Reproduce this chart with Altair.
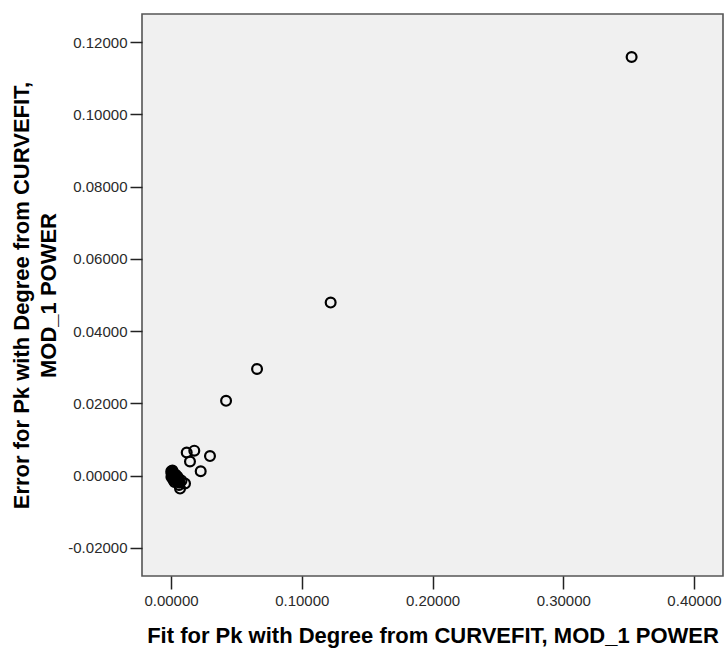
import altair as alt
import pandas as pd

# Fitted values and residuals of the power-model curve fit
fit_values = [
    0.3523, 0.1221, 0.0658, 0.0421, 0.0120, 0.0178, 0.0145, 0.0298, 0.0227,
    0.0002, 0.0004, 0.0006, 0.0008, 0.0010, 0.0012, 0.0014, 0.0016, 0.0019,
    0.0022, 0.0025, 0.0028, 0.0031, 0.0034, 0.0038, 0.0042, 0.0047, 0.0052,
    0.0058, 0.0064, 0.0069, 0.0080, 0.0107, 0.0003, 0.0018, 0.0036, 0.0050,
    0.0061, 0.0011, 0.0027,
]
error_values = [
    0.1159, 0.0479, 0.0295, 0.0207, 0.0064, 0.0069, 0.0039, 0.0054, 0.0012,
    0.0012, 0.0006, 0.0010, 0.0002, 0.0008, -0.0002, 0.0004, -0.0006, 0.0001,
    -0.0004, 0.0003, -0.0009, -0.0002, -0.0011, -0.0005, -0.0013, -0.0008, -0.0016,
    -0.0011, -0.0019, -0.0036, -0.0014, -0.0022, -0.0004, -0.0012, 0.0002, -0.0003,
    -0.0026, 0.0014, -0.0018,
]

x_ticks = [0.0, 0.1, 0.2, 0.3, 0.4]
y_ticks = [-0.02, 0.0, 0.02, 0.04, 0.06, 0.08, 0.10, 0.12]

df = pd.DataFrame({"fit": fit_values, "error": error_values})

label_font = "Liberation Sans, Arial"
title_font = "Liberation Sans, Arial"
# five-decimal labels with a plain hyphen for negatives
label_expr = "datum.value < 0 ? '-' + format(-datum.value, '.5f') : format(datum.value, '.5f')"

chart = (
    alt.Chart(df)
    .mark_point(shape="circle", filled=False, color="black", strokeWidth=2.2, size=97, opacity=1)
    .encode(
        x=alt.X(
            "fit:Q",
            scale=alt.Scale(domain=[-0.0222, 0.4222], nice=False, zero=False),
            axis=alt.Axis(
                values=x_ticks,
                labelExpr=label_expr,
                title="Fit for Pk with Degree from CURVEFIT, MOD_1 POWER",
                grid=False,
                domain=False,
                tickSize=13,
                tickWidth=1.5,
                tickColor="#222222",
                labelPadding=4,
                labelFont=label_font,
                labelFontSize=15,
                labelColor="#2a2a2a",
                titleFont=title_font,
                titleFontSize=22,
                titleFontWeight="bold",
                titleColor="#000000",
                titleBaseline="alphabetic",
                titleY=66,
            ),
        ),
        y=alt.Y(
            "error:Q",
            scale=alt.Scale(domain=[-0.0278, 0.1278], nice=False, zero=False),
            axis=alt.Axis(
                values=y_ticks,
                labelExpr=label_expr,
                title=["Error for Pk with Degree from CURVEFIT,", "MOD_1 POWER"],
                grid=False,
                domain=False,
                tickSize=12,
                tickWidth=1.5,
                tickColor="#222222",
                labelPadding=3,
                labelFont=label_font,
                labelFontSize=15,
                labelColor="#2a2a2a",
                titleFont=title_font,
                titleFontSize=22,
                titleFontWeight="bold",
                titleColor="#000000",
                titleAngle=270,
                titleAlign="center",
                titleBaseline="top",
                titleLineHeight=27,
                titleX=-131,
                titleY=281,
            ),
        ),
    )
    .properties(
        width=581,
        height=562,
        padding={"left": 142, "top": 14, "right": 1, "bottom": 72},
        autosize=alt.AutoSizeParams(type="none"),
        background="white",
    )
    .configure_view(fill="#f0f0f0", stroke="#555555", strokeWidth=1.6)
)

chart.save("out.html", embed_options={"renderer": "svg", "actions": False})
